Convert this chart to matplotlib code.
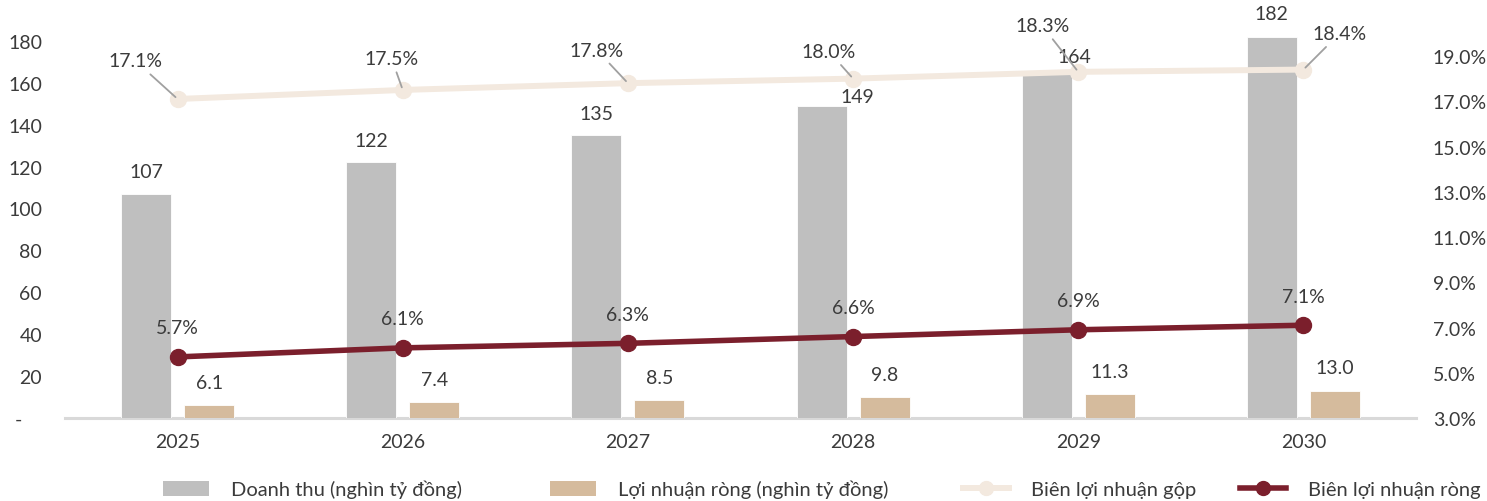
import matplotlib
matplotlib.use("Agg")
import matplotlib.pyplot as plt
from matplotlib.patches import Patch
from matplotlib.lines import Line2D
from matplotlib.ticker import FixedLocator, FuncFormatter

# ---- data -------------------------------------------------------------
years = ["2025", "2026", "2027", "2028", "2029", "2030"]
revenue = [107, 122, 135, 149, 164, 182]          # nghìn tỷ đồng
net_profit = [6.1, 7.4, 8.5, 9.8, 11.3, 13.0]     # nghìn tỷ đồng
gross_margin = [17.1, 17.5, 17.8, 18.0, 18.3, 18.4]  # %
net_margin = [5.7, 6.1, 6.3, 6.6, 6.9, 7.1]          # %

left_ticks = [0, 20, 40, 60, 80, 100, 120, 140, 160, 180]
right_ticks = [3, 5, 7, 9, 11, 13, 15, 17, 19]

legend_labels = ["Doanh thu (nghìn tỷ đồng)", "Lợi nhuận ròng (nghìn tỷ đồng)",
                 "Biên lợi nhuận gộp", "Biên lợi nhuận ròng"]

# ---- style ------------------------------------------------------------
plt.rcParams["font.family"] = ["Lato", "DejaVu Sans"]
TXT = "#3b3b3b"
C_REV = "#bfbfbf"
C_NP = "#d5bb9d"
C_GM = "#f3e9df"
C_NM = "#7b1f2c"
C_LEAD = "#a0a0a0"
FS = 14

W, H = 1487, 502
fig = plt.figure(figsize=(W / 100, H / 100), dpi=100)
ax = fig.add_axes([65 / W, (H - 419) / H, (1416 - 65) / W, 419 / H])
ax2 = ax.twinx()

x = list(range(len(years)))
bw = 0.222
off = 0.14
xr = [i - off for i in x]
xn = [i + off for i in x]

ax.bar(xr, revenue, width=bw, color=C_REV, edgecolor="white", linewidth=0.6, zorder=2)
ax.bar(xn, net_profit, width=bw, color=C_NP, edgecolor="white", linewidth=0.6, zorder=2)

ax.set_xlim(-0.5, len(years) - 0.5)
ax.set_ylim(0, 200)
ax2.set_ylim(3, 21.52)

ax2.plot(x, gross_margin, color=C_GM, lw=4.3, marker="o", ms=11.5,
         markerfacecolor=C_GM, markeredgecolor=C_GM, zorder=3)
ax2.plot(x, net_margin, color=C_NM, lw=4, marker="o", ms=11.5,
         markerfacecolor=C_NM, markeredgecolor=C_NM, zorder=4)

# ---- axes cosmetics ---------------------------------------------------
for a in (ax, ax2):
    for s in ("top", "left", "right", "bottom"):
        a.spines[s].set_visible(False)
ax.axhline(0, color="#d9d9d9", lw=2.2, zorder=1, clip_on=False)

ax.set_xticks(x)
ax.set_xticklabels(years)
ax.tick_params(axis="x", length=0, pad=11, labelsize=FS, labelcolor=TXT)

ax.yaxis.set_major_locator(FixedLocator(left_ticks))
ax.yaxis.set_major_formatter(FuncFormatter(lambda v, p: "-    " if v == 0 else f"{v:.0f}"))
ax.tick_params(axis="y", length=0, pad=16.5, labelsize=FS, labelcolor=TXT)

ax2.yaxis.set_major_locator(FixedLocator(right_ticks))
ax2.yaxis.set_major_formatter(FuncFormatter(lambda v, p: f"{v:.1f}%"))
ax2.tick_params(axis="y", length=0, pad=12, labelsize=FS, labelcolor=TXT)

# ---- data labels ------------------------------------------------------
rev_off = [(0, 22), (0, 22), (0, 22), (36, 9), (28, 18), (0, 23)]
for xi, v, (dx, dy) in zip(xr, revenue, rev_off):
    ax.annotate(f"{v:.0f}", xy=(xi, v), xytext=(dx, dy), textcoords="offset pixels",
                ha="center", va="center", fontsize=FS, color=TXT, zorder=6,
                annotation_clip=False)

for xi, v in zip(xn, net_profit):
    ax.annotate(f"{v:.1f}", xy=(xi, v), xytext=(0, 23), textcoords="offset pixels",
                ha="center", va="center", fontsize=FS, color=TXT, zorder=6,
                annotation_clip=False)

for xi, v in zip(x, net_margin):
    ax2.annotate(f"{v:.1f}%", xy=(xi, v), xytext=(0, 29), textcoords="offset pixels",
                 ha="center", va="center", fontsize=FS, color=TXT, zorder=6,
                 annotation_clip=False)

gm_off = [(-42, 38), (-11, 31), (-31, 33), (-24, 27), (-36, 46), (36, 36)]
for xi, v, (dx, dy) in zip(x, gross_margin, gm_off):
    ax2.annotate(f"{v:.1f}%", xy=(xi, v), xytext=(dx, dy), textcoords="offset pixels",
                 ha="center", va="center", fontsize=FS, color=TXT, zorder=6,
                 annotation_clip=False,
                 bbox=dict(boxstyle="square,pad=0.25", fc="none", ec="none"),
                 arrowprops=dict(arrowstyle="-", color=C_LEAD, lw=1.3,
                                 shrinkA=0, shrinkB=2))

# ---- legend -----------------------------------------------------------
handles = [
    Patch(facecolor=C_REV, edgecolor="none"),
    Patch(facecolor=C_NP, edgecolor="none"),
    Line2D([], [], color=C_GM, lw=4.3, marker="o", ms=10, markerfacecolor=C_GM,
           markeredgecolor=C_GM),
    Line2D([], [], color=C_NM, lw=4, marker="o", ms=10, markerfacecolor=C_NM,
           markeredgecolor=C_NM),
]
starts = [163, 550, 963, 1240]
for h, lab, xs in zip(handles, legend_labels, starts):
    fig.legend([h], [lab], loc="center left", bbox_to_anchor=(xs / W, 12 / H),
               frameon=False, fontsize=14.5, labelcolor=TXT, handlelength=2.3,
               handleheight=0.8, handletextpad=1.1, borderpad=0, borderaxespad=0)

fig.savefig("out.png", dpi=100)
